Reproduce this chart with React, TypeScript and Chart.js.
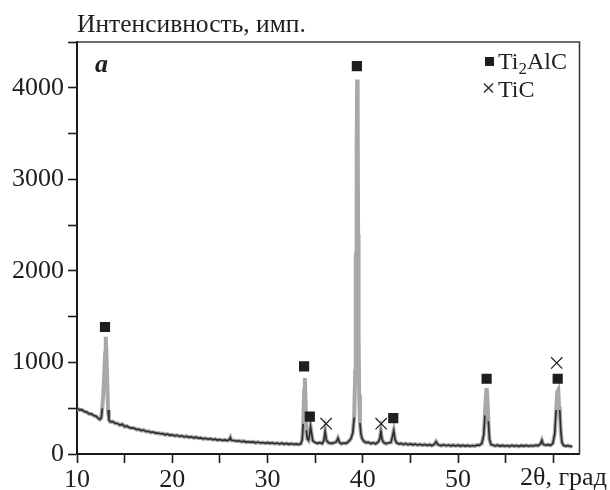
import React, { useEffect, useRef } from 'react';
import { Chart, registerables } from 'chart.js';

Chart.register(...registerables);

// 2θ angles (degrees) and counts of the diffraction pattern
const angles = [
  10.0, 10.25, 10.5, 10.75, 11.0, 11.25, 11.5, 11.75, 12.0, 12.25,
  12.4, 12.55, 12.65, 12.75, 12.85, 12.95, 13.02, 13.1, 13.18, 13.26,
  13.35, 13.5, 13.75, 14.0, 14.25, 14.5, 14.75, 15.0, 15.25, 15.5,
  15.75, 16.0, 16.25, 16.5, 16.75, 17.0, 17.25, 17.5, 17.75, 18.0,
  18.25, 18.5, 18.75, 19.0, 19.25, 19.5, 19.75, 20.0, 20.25, 20.5,
  20.75, 21.0, 21.25, 21.5, 21.75, 22.0, 22.25, 22.5, 22.75, 23.0,
  23.25, 23.5, 23.75, 24.0, 24.25, 24.5, 24.75, 25.0, 25.25, 25.5,
  25.75, 26.0, 26.1, 26.2, 26.5, 26.75, 27.0, 27.25, 27.5, 27.75,
  28.0, 28.25, 28.5, 28.75, 29.0, 29.25, 29.5, 29.75, 30.0, 30.25,
  30.5, 30.75, 31.0, 31.25, 31.5, 31.75, 32.0, 32.25, 32.5, 32.75,
  33.0, 33.25, 33.5, 33.65, 33.75, 33.85, 33.92, 34.0, 34.08, 34.18,
  34.3, 34.42, 34.52, 34.62, 34.75, 35.0, 35.25, 35.5, 35.75, 35.92,
  36.05, 36.18, 36.4, 36.75, 37.0, 37.25, 37.4, 37.55, 37.75, 38.0,
  38.25, 38.5, 38.75, 38.95, 39.1, 39.2, 39.26, 39.31, 39.36, 39.41,
  39.46, 39.51, 39.56, 39.62, 39.7, 39.8, 39.92, 40.1, 40.35, 40.6,
  40.85, 41.1, 41.35, 41.6, 41.78, 41.9, 42.02, 42.2, 42.45, 42.7,
  42.95, 43.12, 43.25, 43.38, 43.55, 43.8, 44.0, 44.25, 44.5, 44.75,
  45.0, 45.25, 45.5, 45.75, 46.0, 46.25, 46.5, 46.75, 47.0, 47.25,
  47.5, 47.7, 47.85, 48.0, 48.25, 48.5, 48.75, 49.0, 49.25, 49.5,
  49.75, 50.0, 50.25, 50.5, 50.75, 51.0, 51.25, 51.5, 51.75, 52.0,
  52.25, 52.5, 52.7, 52.82, 52.92, 53.0, 53.08, 53.18, 53.3, 53.45,
  53.65, 53.9, 54.15, 54.4, 54.65, 54.9, 55.15, 55.4, 55.65, 55.9,
  56.15, 56.4, 56.65, 56.9, 57.15, 57.4, 57.65, 57.9, 58.15, 58.4,
  58.65, 58.8, 58.95, 59.2, 59.45, 59.7, 59.95, 60.15, 60.3, 60.42,
  60.52, 60.6, 60.68, 60.78, 60.9, 61.05, 61.3, 61.55, 61.8, 62.0,
];

const counts = [
  500, 482, 484, 465, 458, 440, 438, 420, 412, 388,
  378, 395, 500, 640, 850, 1100, 1280, 1060, 780, 480,
  372, 352, 355, 336, 334, 316, 325, 300, 304, 288,
  285, 282, 268, 270, 256, 262, 246, 248, 236, 240,
  228, 230, 222, 224, 210, 218, 204, 210, 198, 205,
  192, 198, 186, 194, 182, 188, 176, 184, 172, 176,
  166, 172, 162, 168, 156, 162, 152, 158, 148, 154,
  146, 158, 180, 150, 148, 140, 144, 134, 140, 130,
  134, 128, 132, 122, 130, 120, 126, 118, 124, 116,
  122, 112, 120, 110, 118, 108, 116, 106, 114, 104,
  110, 104, 112, 160, 330, 700, 830, 560, 260, 165,
  150, 210, 300, 230, 145, 125, 116, 124, 114, 150,
  245, 150, 122, 116, 124, 135, 172, 128, 112, 120,
  116, 135, 165, 230, 400, 900, 2150, 2200, 3400, 4090,
  3800, 2400, 1300, 650, 340, 220, 170, 140, 124, 128,
  114, 122, 112, 128, 165, 245, 160, 125, 112, 122,
  126, 195, 255, 160, 122, 110, 116, 104, 114, 102,
  110, 100, 108, 98, 106, 96, 104, 94, 102, 92,
  104, 135, 108, 98, 92, 100, 90, 98, 89, 97,
  88, 96, 87, 95, 86, 94, 85, 93, 88, 97,
  95, 115, 210, 420, 640, 720, 620, 360, 160, 105,
  98, 88, 96, 86, 94, 85, 93, 84, 95, 86,
  93, 84, 94, 86, 95, 85, 93, 88, 96, 92,
  110, 150, 104, 96, 102, 94, 115, 220, 480, 680,
  700, 520, 480, 260, 130, 96, 86, 92, 82, 86,
];

// Phase markers
const ti2alcAngles = [12.94, 33.84, 34.44, 39.38, 43.2, 53.0, 60.46];
const ti2alcCounts = [1387, 957, 409, 4236, 391, 822, 822];
const ticAngles = [36.15, 41.93, 60.36];
const ticCounts = [331, 331, 995];

// Axes
const xMin = 10;
const xMax = 62.75;
const xStep = 5;
const yMin = 0;
const yMax = 4500;
const yStep = 500;
const yTitle = 'Интенсивность, имп.';
const xTitle = '2θ, град';
const panelLabel = 'a';
const legendMain = ['Ti', '2', 'AlC'];
const legendSecond = 'TiC';

const SERIF = "'Liberation Serif', 'Times New Roman', serif";
const INK = '#1e1e1e';

const decorPlugin = {
  id: 'decor',
  afterDraw(chart: any) {
    const { ctx, chartArea: a } = chart;
    ctx.save();
    // frame (top + right)
    ctx.strokeStyle = '#3c3c3c';
    ctx.lineWidth = 1.6;
    ctx.beginPath();
    ctx.moveTo(a.left, a.top);
    ctx.lineTo(a.right, a.top);
    ctx.lineTo(a.right, a.bottom);
    ctx.stroke();

    ctx.fillStyle = INK;
    ctx.textAlign = 'left';
    ctx.textBaseline = 'alphabetic';
    // y title
    ctx.font = `25.5px ${SERIF}`;
    ctx.fillText(yTitle, a.left, 31.5);
    // x title in place of the 60 label
    ctx.font = `26px ${SERIF}`;
    ctx.fillText(xTitle, 520, 485);
    // panel label
    ctx.font = `bold italic 26px ${SERIF}`;
    ctx.fillText(panelLabel, 95, 72);

    // legend
    ctx.fillStyle = INK;
    ctx.fillRect(485, 57, 9, 9);
    ctx.font = `24px ${SERIF}`;
    let x = 498;
    ctx.fillText(legendMain[0], x, 68.5);
    x += ctx.measureText(legendMain[0]).width;
    ctx.font = `17px ${SERIF}`;
    ctx.fillText(legendMain[1], x, 74);
    x += ctx.measureText(legendMain[1]).width;
    ctx.font = `24px ${SERIF}`;
    ctx.fillText(legendMain[2], x, 68.5);

    ctx.strokeStyle = INK;
    ctx.lineWidth = 1.2;
    ctx.beginPath();
    ctx.moveTo(484, 83.5);
    ctx.lineTo(493, 92.5);
    ctx.moveTo(493, 83.5);
    ctx.lineTo(484, 92.5);
    ctx.stroke();
    ctx.fillText(legendSecond, 498, 96.5);
    ctx.restore();
  },
};

export default function App() {
  const canvasRef = useRef<HTMLCanvasElement | null>(null);

  useEffect(() => {
    if (!canvasRef.current) return;
    const pattern = angles.map((x, i) => ({ x, y: counts[i] }));
    const squares = ti2alcAngles.map((x, i) => ({ x, y: ti2alcCounts[i] }));
    const crosses = ticAngles.map((x, i) => ({ x, y: ticCounts[i] }));

    const chart = new Chart(canvasRef.current, {
      type: 'line',
      data: {
        datasets: [
          {
            data: pattern,
            borderColor: '#a8a8a8',
            borderWidth: 4,
            pointRadius: 0,
            tension: 0,
            order: 4,
          } as any,
          {
            data: pattern,
            borderColor: '#2e2e2e',
            borderWidth: 1.6,
            pointRadius: 0,
            tension: 0,
            order: 3,
            segment: {
              borderColor: (c: any) =>
                c.p0.parsed.y < 520 && c.p1.parsed.y < 520 ? '#2a2a2a' : 'rgba(0,0,0,0)',
            },
          } as any,
          {
            type: 'scatter',
            data: squares,
            showLine: false,
            pointStyle: 'rect',
            pointRadius: 7.2,
            backgroundColor: INK,
            borderColor: INK,
            borderWidth: 0,
            order: 2,
          } as any,
          {
            type: 'scatter',
            data: crosses,
            showLine: false,
            pointStyle: 'crossRot',
            pointRadius: 8,
            borderColor: INK,
            borderWidth: 1.2,
            order: 1,
          } as any,
        ],
      },
      options: {
        responsive: false,
        animation: false,
        layout: { padding: { left: 0, top: 42, right: 30.5, bottom: 0 } },
        plugins: {
          legend: { display: false },
          tooltip: { enabled: false },
          title: { display: false },
        },
        scales: {
          x: {
            type: 'linear',
            min: xMin,
            max: xMax,
            afterFit: (s: any) => {
              s.height = 36;
            },
            border: { display: true, color: '#1a1a1a', width: 2 },
            grid: {
              drawOnChartArea: false,
              drawTicks: true,
              tickLength: 9,
              tickColor: '#1a1a1a',
              tickWidth: 1.6,
            },
            ticks: {
              stepSize: xStep,
              includeBounds: false,
              autoSkip: false,
              maxRotation: 0,
              padding: 2,
              color: INK,
              font: { family: SERIF, size: 26 },
              callback: (v: any) => (v % 10 === 0 && v < 60 ? String(v) : ''),
            },
          },
          y: {
            type: 'linear',
            min: yMin,
            max: yMax,
            afterFit: (s: any) => {
              s.width = 77;
            },
            border: { display: true, color: '#1a1a1a', width: 2 },
            grid: {
              drawOnChartArea: false,
              drawTicks: true,
              tickLength: 9,
              tickColor: '#1a1a1a',
              tickWidth: 1.6,
            },
            ticks: {
              stepSize: yStep,
              autoSkip: false,
              padding: 4,
              color: INK,
              font: { family: SERIF, size: 26 },
              callback: (v: any) => (v % 1000 === 0 ? String(v) : ''),
            },
          },
        },
      },
      plugins: [decorPlugin],
    } as any);

    return () => chart.destroy();
  }, []);

  return (
    <div style={{ position: 'absolute', left: 0, top: 0, width: 610, height: 490, background: '#fff' }}>
      <canvas ref={canvasRef} width={610} height={490} style={{ display: 'block' }} />
    </div>
  );
}
